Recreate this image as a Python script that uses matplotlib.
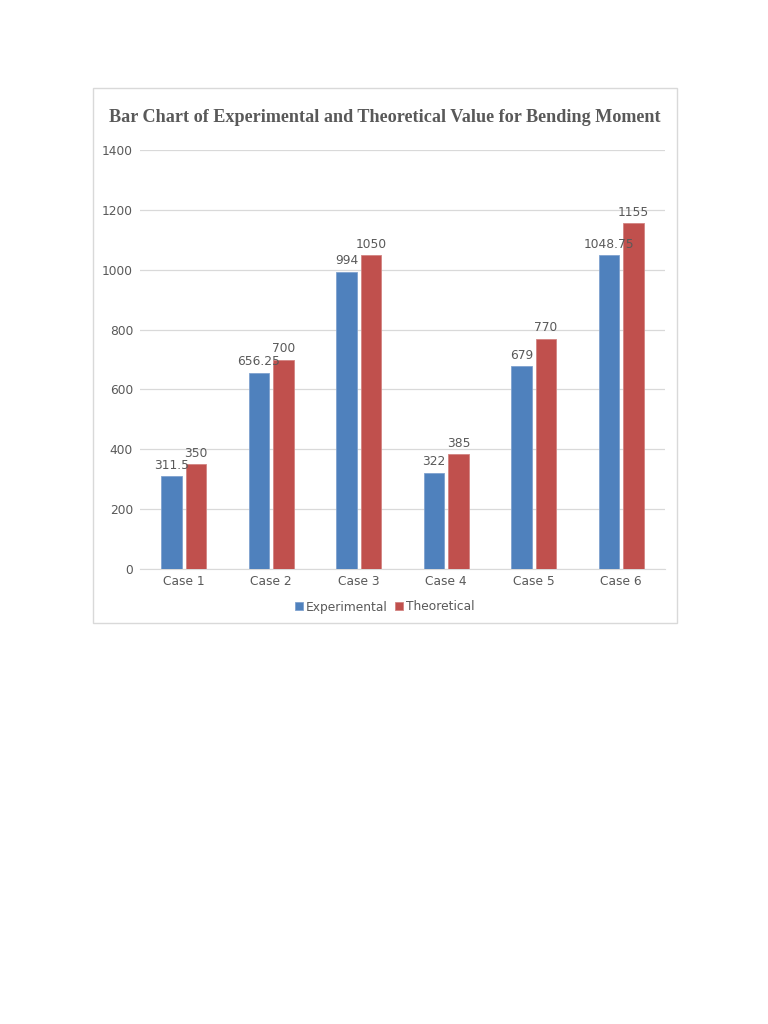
import numpy as np
import matplotlib
matplotlib.use("Agg")
import matplotlib.pyplot as plt
from matplotlib.patches import Rectangle

cases = ["Case 1", "Case 2", "Case 3", "Case 4", "Case 5", "Case 6"]
experimental = [311.5, 656.25, 994, 322, 679, 1048.75]
theoretical = [350, 700, 1050, 385, 770, 1155]
exp_labels = ["311.5", "656.25", "994", "322", "679", "1048.75"]
theo_labels = ["350", "700", "1050", "385", "770", "1155"]
yticks = [0, 200, 400, 600, 800, 1000, 1200, 1400]

blue = "#4F81BD"
red = "#C0504D"
text_c = "#595959"
grid_c = "#D9D9D9"

plt.rcParams["font.family"] = ["DejaVu Sans"]

fig = plt.figure(figsize=(7.68, 10.24), dpi=100, facecolor="white")

# outer chart frame
fig.patches.append(Rectangle((93 / 768, 1 - 623 / 1024), 584 / 768, 535 / 1024,
                             transform=fig.transFigure, fill=False,
                             edgecolor=grid_c, lw=1))

ax = fig.add_axes([140 / 768, 1 - 569 / 1024, 525 / 768, 419 / 1024])
x = np.arange(len(cases))
w = 0.23
off = 0.14
b1 = ax.bar(x - off, experimental, w, color=blue, edgecolor="#7FA2CF", lw=0.6,
            label="Experimental", zorder=3)
b2 = ax.bar(x + off, theoretical, w, color=red, edgecolor="#D38482", lw=0.6,
            label="Theoretical", zorder=3)

fs = 8.8
for xi, v, s in zip(x, experimental, exp_labels):
    ax.text(xi - off, v + 14, s, ha="center", va="bottom", fontsize=fs, color=text_c)
for xi, v, s in zip(x, theoretical, theo_labels):
    ax.text(xi + off, v + 14, s, ha="center", va="bottom", fontsize=fs, color=text_c)

ax.set_xlim(-0.5, len(cases) - 0.5)
ax.set_ylim(0, 1400)
ax.set_yticks(yticks)
ax.set_xticks(x)
ax.set_xticklabels(cases)
ax.tick_params(axis="both", length=0, labelsize=fs, labelcolor=text_c)
ax.tick_params(axis="y", pad=5)
ax.tick_params(axis="x", pad=4)
ax.grid(axis="y", color=grid_c, lw=0.9, zorder=0)
for sp in ("top", "right", "left"):
    ax.spines[sp].set_visible(False)
ax.spines["bottom"].set_color(grid_c)

fig.text(385 / 768, 1 - 118 / 1024,
         "Bar Chart of Experimental and Theoretical Value for Bending Moment",
         ha="center", va="center", fontsize=13.1, fontweight="bold",
         family="Liberation Serif", color=text_c)

leg = fig.legend(handles=[b1, b2], loc="center", bbox_to_anchor=(385 / 768, 1 - 607 / 1024),
                 ncol=2, frameon=False, fontsize=fs, handlelength=0.6, handleheight=0.6,
                 handletextpad=0.3, columnspacing=0.6, labelcolor=text_c)

fig.savefig("out.png", dpi=100, facecolor="white")
